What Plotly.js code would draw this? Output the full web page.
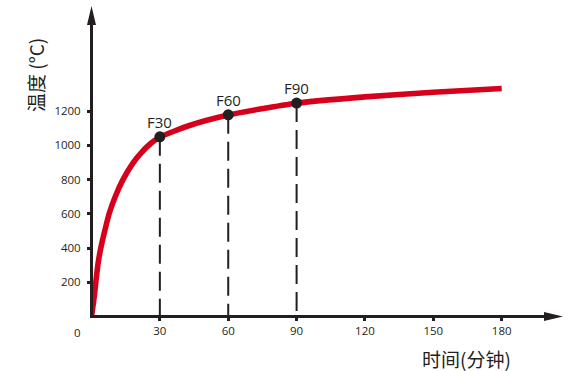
<!DOCTYPE html>
<html><head><meta charset="utf-8">
<script src="https://cdn.plot.ly/plotly-3.0.1.min.js"></script>
<style>html,body{margin:0;padding:0;background:#fff}</style>
</head><body><div id="chart" style="width:576px;height:371px"></div>
<script>
// Fire temperature curve (minutes, °C)
const timeMin = [0, 1.2, 2.0, 2.9, 4.2, 5.9, 7.8, 10.4, 13.7, 18.1, 21.7, 26.1, 30, 43, 60, 74, 90, 120, 150, 180];
const tempC   = [0, 116, 213, 311, 408, 505, 603, 700, 797, 895, 955, 1012, 1048, 1116, 1177, 1212, 1246, 1283, 1310, 1332];
// Marked fire-resistance points
const pointTimes  = [30, 60, 90];
const pointTemps  = [1050, 1178, 1247];
const pointLabels = ['F30', 'F60', 'F90'];
// Axis ticks
const xTickVals = [30, 60, 90, 120, 150, 180];
const yTickVals = [200, 400, 600, 800, 1000, 1200];
const xTitle = '时间(分钟)';
const yTitle = '温度 (°C)';
const originLabel = '0';

const INK = '#231f20';
const RED = '#d7001c';

const dashX = [], dashY = [];
pointTimes.forEach((t, i) => { dashX.push(t, t, null); dashY.push(pointTemps[i], 0, null); });

const traces = [
  { x: dashX, y: dashY, mode: 'lines', line: {color: INK, width: 2, dash: '19px,8px'}, hoverinfo: 'skip' },
  { x: timeMin, y: tempC, mode: 'lines', line: {color: RED, width: 5.6, shape: 'spline', smoothing: 0.6}, hoverinfo: 'skip' },
  { x: pointTimes, y: pointTemps, mode: 'markers', marker: {color: INK, size: 11}, cliponaxis: false, hoverinfo: 'skip' }
];

// plot area geometry (pixels)
const L = 93, R = 31, T = 24, B = 56, W = 576, H = 371;
const pw = W - L - R, ph = H - T - B;
const px2paperX = px => (px - L) / pw;
const px2paperY = py => (H - B - py) / ph;

const pointAnnots = pointTimes.map((t, i) => ({
  text: pointLabels[i], x: t, y: pointTemps[i], xref: 'x', yref: 'y',
  xanchor: 'center', yanchor: 'middle', yshift: 15, showarrow: false,
  font: {family: 'Open Sans', size: 15, color: INK}
}));

const layout = {
  width: W, height: H,
  margin: {l: L, r: R, t: T, b: B, pad: 0},
  paper_bgcolor: '#fff', plot_bgcolor: '#fff',
  showlegend: false,
  xaxis: {
    range: [0.66, 199.0], showgrid: false, zeroline: false,
    showline: true, linecolor: INK, linewidth: 3,
    tickmode: 'array', tickvals: xTickVals, ticktext: xTickVals.map(String),
    ticks: 'outside', ticklen: 3, tickwidth: 3, tickcolor: INK,
    tickfont: {family: 'Open Sans', size: 11.5, color: INK}
  },
  yaxis: {
    range: [8.8, 1708.8], showgrid: false, zeroline: false,
    showline: true, linecolor: INK, linewidth: 3,
    tickmode: 'array', tickvals: yTickVals, ticktext: yTickVals.map(String),
    ticks: 'outside', ticklen: 3, tickwidth: 3, tickcolor: INK, ticklabelstandoff: 4,
    tickfont: {family: 'Open Sans', size: 11.5, color: INK}
  },
  shapes: [
    {type: 'path', xref: 'paper', yref: 'paper', xsizemode: 'pixel', ysizemode: 'pixel',
     xanchor: 0, yanchor: 1, path: 'M-6,-1 L-1.5,18 L3,-1 Z', fillcolor: INK, line: {width: 0}},
    {type: 'path', xref: 'paper', yref: 'paper', xsizemode: 'pixel', ysizemode: 'pixel',
     xanchor: 1, yanchor: 0, path: 'M-1,3 L18,-1.5 L-1,-6 Z', fillcolor: INK, line: {width: 0}}
  ],
  annotations: pointAnnots.concat([
    {text: originLabel, xref: 'paper', yref: 'paper', x: px2paperX(77.3), y: px2paperY(332),
     xanchor: 'center', yanchor: 'middle', showarrow: false,
     font: {family: 'Open Sans', size: 11.5, color: INK}},
    {text: xTitle, xref: 'paper', yref: 'paper', x: px2paperX(466.5), y: px2paperY(358),
     xanchor: 'center', yanchor: 'middle', showarrow: false,
     font: {family: 'Noto Sans CJK SC', size: 19, color: INK}},
    {text: yTitle, xref: 'paper', yref: 'paper', x: px2paperX(35), y: px2paperY(75), textangle: -90,
     xanchor: 'center', yanchor: 'middle', showarrow: false,
     font: {family: 'Noto Sans CJK SC', size: 19, color: INK}}
  ])
};

Plotly.newPlot('chart', traces, layout, {staticPlot: true, displayModeBar: false});
</script>
</body></html>
